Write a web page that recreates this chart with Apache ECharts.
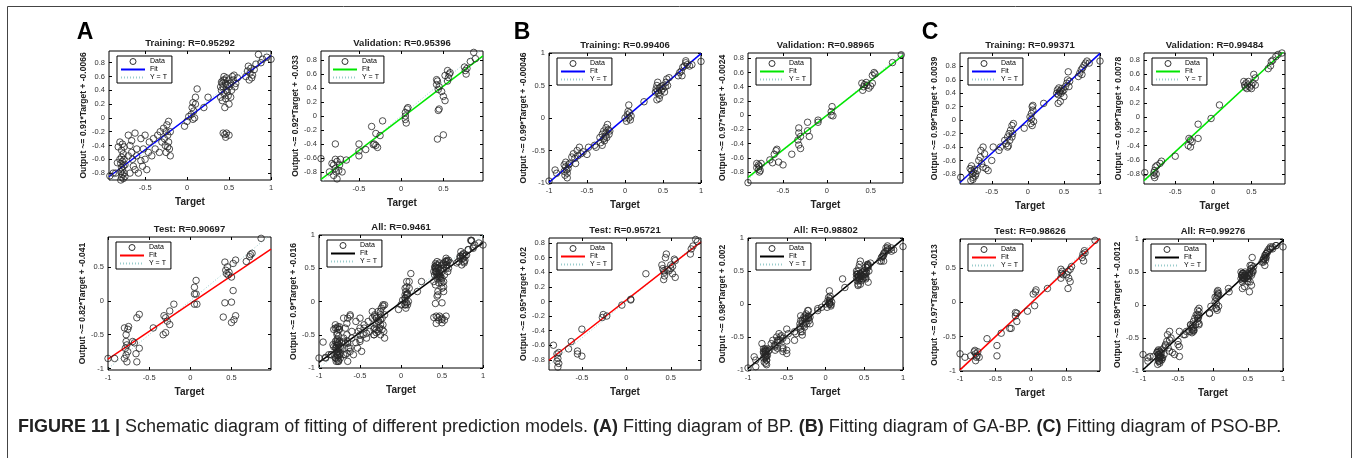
<!DOCTYPE html>
<html><head><meta charset="utf-8">
<script src="https://cdn.jsdelivr.net/npm/echarts@6/dist/echarts.min.js"></script>
<style>html,body{margin:0;padding:0;background:#fff}#c{width:1354px;height:458px}</style>
</head><body><div id="c"></div>
<script>
// ---------- text ----------
const panelTitles = [
  'Training: R=0.95292','Validation: R=0.95396','Test: R=0.90697','All: R=0.9461',
  'Training: R=0.99406','Validation: R=0.98965','Test: R=0.95721','All: R=0.98802',
  'Training: R=0.99371','Validation: R=0.99484','Test: R=0.98626','All: R=0.99276'
];
const yAxisLabels = [
  'Output ~= 0.91*Target + -0.0066','Output ~= 0.92*Target + -0.033','Output ~= 0.82*Target + -0.041','Output ~= 0.9*Target + -0.016',
  'Output ~= 0.99*Target + -0.00046','Output ~= 0.97*Target + -0.0024','Output ~= 0.95*Target + 0.02','Output ~= 0.98*Target + 0.002',
  'Output ~= 0.99*Target + 0.0039','Output ~= 0.99*Target + 0.0078','Output ~= 0.97*Target + -0.013','Output ~= 0.98*Target + -0.0012'
];
const groupLetters = ['A','B','C'];
const captionText = '{b|FIGURE 11 |} Schematic diagram of fitting of different prediction models. {b|(A)} Fitting diagram of BP. {b|(B)} Fitting diagram of GA-BP. {b|(C)} Fitting diagram of PSO-BP.';
const legendNames = ['Data','Fit','Y = T'];
const xAxisName = 'Target';

// ---------- fit lines ----------
const fitSlopes = [0.91,0.92,0.82,0.9, 0.99,0.97,0.95,0.98, 0.99,0.99,0.97,0.98];
const fitIntercepts = [-0.0066,-0.033,-0.041,-0.016, -0.00046,-0.0024,0.02,0.002, 0.0039,0.0078,-0.013,-0.0012];

// ---------- axis ranges & ticks ----------
const xMins = [-0.93,-0.95,-1,-1, -1,-0.9,-0.87,-1, -0.94,-0.91,-1,-1];
const xMaxs = [1,0.97,0.98,1, 1,0.87,0.84,1, 1,0.94,0.97,1];
const yMins = [-0.9,-0.93,-1.02,-1, -1,-0.955,-0.94,-1, -0.95,-0.94,-1,-1];
const yMaxs = [0.97,0.93,0.94,1, 1,0.875,0.87,1, 1,0.9,0.92,1];
const ticksTenths = [-0.8,-0.6,-0.4,-0.2,0,0.2,0.4,0.6,0.8];
const ticksHalves = [-1,-0.5,0,0.5,1];
const ticksHalvesLow = [-1,-0.5,0,0.5];
const ticksMid = [-0.5,0,0.5];
const ticksMidHigh = [-0.5,0,0.5,1];
const xTicks = [ticksMidHigh,ticksMid,ticksHalvesLow,ticksHalves, ticksHalves,ticksMid,ticksMid,ticksHalves, ticksMidHigh,ticksMid,ticksHalvesLow,ticksHalves];
const yTicks = [ticksTenths,ticksTenths,ticksHalvesLow,ticksHalves, ticksHalves,ticksTenths,ticksTenths,ticksHalves, ticksTenths,ticksTenths,ticksHalvesLow,ticksHalves];

// ---------- data (Target, Output) ----------
const aTrain = [[-0.92,-0.84],[-0.88,-0.8],[-0.85,-0.8],[-0.83,-0.65],[-0.82,-0.42],[-0.8,-0.35],
[-0.79,-0.9],[-0.78,-0.86],[-0.77,-0.82],[-0.76,-0.88],[-0.79,-0.78],[-0.77,-0.75],[-0.75,-0.8],[-0.78,-0.72],[-0.76,-0.7],[-0.79,-0.66],[-0.77,-0.63],[-0.75,-0.6],[-0.78,-0.57],[-0.76,-0.52],[-0.78,-0.47],[-0.75,-0.42],[-0.77,-0.38],[-0.74,-0.68],[-0.74,-0.85],[-0.8,-0.6],
[-0.7,-0.25],[-0.68,-0.4],[-0.66,-0.5],[-0.65,-0.6],[-0.64,-0.7],[-0.62,-0.75],[-0.6,-0.55],[-0.62,-0.22],[-0.68,-0.8],[-0.6,-0.45],[-0.7,-0.55],[-0.66,-0.33],
[-0.55,-0.3],[-0.52,-0.45],[-0.5,-0.6],[-0.48,-0.75],[-0.46,-0.5],[-0.5,-0.25],[-0.45,-0.35],[-0.55,-0.62],[-0.58,-0.8],[-0.53,-0.7],
[-0.4,-0.3],[-0.38,-0.45],[-0.35,-0.25],[-0.33,-0.5],[-0.3,-0.35],[-0.42,-0.55],[-0.32,-0.2],
[-0.28,-0.15],[-0.27,-0.3],[-0.26,-0.4],[-0.25,-0.5],[-0.24,-0.1],[-0.23,-0.25],[-0.22,-0.05],[-0.22,-0.35],[-0.21,-0.45],[-0.2,-0.2],[-0.2,-0.55],[-0.25,-0.2],[-0.23,-0.42],
[-0.03,-0.12],[0,-0.05],[0.02,0.02],
[0.05,0.05],[0.06,0.15],[0.07,0.22],[0.08,0.1],[0.09,0],[0.1,0.2],[0.12,0.42],[0.1,0.3],[0.07,-0.02],
[0.25,0.3],[0.2,0.15],
[0.4,0.3],[0.41,0.4],[0.42,0.5],[0.43,0.45],[0.44,0.35],[0.45,0.55],[0.46,0.28],[0.47,0.4],[0.48,0.48],[0.49,0.32],[0.5,0.45],[0.42,0.25],[0.44,0.6],[0.46,0.5],[0.48,0.38],[0.4,0.45],[0.43,0.55],[0.5,0.55],[0.5,0.2],[0.52,0.3],[0.45,0.15],[0.41,0.52],[0.47,0.58],
[0.43,-0.22],[0.45,-0.24],[0.47,-0.22],[0.5,-0.25],[0.46,-0.28],
[0.52,0.5],[0.54,0.6],[0.55,0.55],[0.56,0.62],[0.58,0.5],[0.6,0.58],[0.53,0.4],[0.57,0.45],
[0.7,0.6],[0.72,0.68],[0.74,0.55],[0.75,0.65],[0.76,0.72],[0.78,0.62],[0.8,0.7],[0.73,0.75],[0.77,0.58],
[0.85,0.92],[0.82,0.78],[0.9,0.85],[0.95,0.88],[1,0.85],[0.88,0.8]];
const aVal = [[-0.95,-0.61],[-0.78,-0.62],[-0.76,-0.65],[-0.8,-0.7],[-0.78,-0.75],[-0.77,-0.8],[-0.8,-0.85],[-0.76,-0.9],[-0.73,-0.7],[-0.72,-0.62],[-0.74,-0.78],[-0.85,-0.8],[-0.82,-0.68],
[-0.78,-0.4],[-0.65,-0.63],[-0.7,-0.8],[-0.5,-0.4],[-0.5,-0.5],[-0.5,-0.57],[-0.42,-0.48],
[-0.35,-0.15],[-0.32,-0.4],[-0.3,-0.42],[-0.33,-0.41],[-0.28,-0.45],[-0.3,-0.25],[-0.25,-0.28],[-0.22,-0.07],
[0.05,0.05],[0.05,-0.05],[0.06,-0.1],[0.07,0.1],[0.08,0.12],[0.05,0],
[0.42,0.52],[0.43,0.5],[0.42,0.45],[0.44,0.38],[0.45,0.42],[0.48,0.35],[0.5,0.28],[0.52,0.22],[0.45,0.1],[0.44,0.08],[0.43,-0.33],[0.5,-0.27],
[0.55,0.5],[0.56,0.55],[0.57,0.6],[0.58,0.62],[0.52,0.58],[0.55,0.65],
[0.75,0.7],[0.76,0.65],[0.77,0.6],[0.78,0.68],[0.82,0.78],[0.86,0.91],[0.88,0.82]];
const aTest = [[-1,-0.85],[-0.92,-0.85],
[-0.78,-0.6],[-0.77,-0.65],[-0.79,-0.7],[-0.76,-0.75],[-0.78,-0.8],[-0.8,-0.85],[-0.77,-0.9],[-0.8,-0.4],[-0.76,-0.42],[-0.78,-0.5],[-0.75,-0.38],
[-0.7,-0.6],[-0.68,-0.62],[-0.66,-0.78],[-0.65,-0.9],[-0.62,-0.7],[-0.65,-0.25],[-0.62,-0.2],
[-0.45,-0.4],
[-0.32,-0.22],[-0.3,-0.25],[-0.33,-0.5],[-0.3,-0.47],[-0.28,-0.3],[-0.25,-0.35],[-0.25,-0.15],[-0.2,-0.05],
[0.05,0.2],[0.07,0.3],[0.05,0.1],[0.07,0.1],[0.05,-0.05],[0.08,-0.05],
[0.42,0.57],[0.43,0.45],[0.44,0.4],[0.45,0.5],[0.46,0.38],[0.47,0.42],[0.5,0.35],[0.42,-0.03],[0.4,-0.24],[0.5,-0.02],[0.52,0.15],[0.5,-0.32],[0.55,-0.22],[0.53,-0.28],[0.52,0.55],[0.55,0.6],
[0.68,0.58],[0.72,0.65],[0.75,0.7],[0.73,0.68],[0.86,0.92]];

const bTrain = [[-1,-0.97],[-0.92,-0.8],[-0.9,-0.85],
[-0.8,-0.72],[-0.78,-0.75],[-0.77,-0.8],[-0.76,-0.85],[-0.75,-0.78],[-0.79,-0.88],[-0.74,-0.72],[-0.76,-0.92],[-0.8,-0.82],[-0.73,-0.7],[-0.78,-0.68],
[-0.7,-0.6],[-0.68,-0.55],[-0.66,-0.62],[-0.65,-0.7],[-0.63,-0.5],[-0.6,-0.45],[-0.62,-0.58],[-0.58,-0.55],[-0.55,-0.52],[-0.5,-0.56],[-0.48,-0.45],[-0.4,-0.42],[-0.38,-0.45],
[-0.33,-0.3],[-0.32,-0.38],[-0.3,-0.25],[-0.3,-0.42],[-0.28,-0.2],[-0.28,-0.32],[-0.27,-0.35],[-0.26,-0.28],[-0.25,-0.15],[-0.25,-0.22],[-0.24,-0.3],[-0.23,-0.1],[-0.22,-0.18],[-0.21,-0.25],[-0.2,-0.2],
[0,0],[0.02,-0.05],[0.03,0.05],[0.04,0.1],[0.05,0],[0.06,0.08],[0.07,-0.03],[0.05,0.2],[0.08,0.03],
[0.25,0.25],
[0.4,0.4],[0.41,0.45],[0.42,0.5],[0.43,0.42],[0.44,0.38],[0.45,0.46],[0.46,0.35],[0.47,0.48],[0.48,0.42],[0.5,0.45],[0.43,0.55],[0.45,0.3],[0.42,0.28],[0.52,0.4],[0.54,0.55],[0.55,0.6],[0.56,0.5],[0.58,0.62],[0.5,0.5],[0.53,0.48],
[0.7,0.65],[0.72,0.7],[0.74,0.72],[0.75,0.65],[0.76,0.78],[0.78,0.8],[0.8,0.85],[0.82,0.82],[0.85,0.8],[0.88,0.82],[0.8,0.88],[1,0.87]];
const bVal = [[-0.9,-0.95],
[-0.8,-0.68],[-0.78,-0.7],[-0.77,-0.72],[-0.78,-0.76],[-0.77,-0.8],[-0.76,-0.78],[-0.8,-0.74],[-0.75,-0.68],
[-0.65,-0.63],[-0.62,-0.67],[-0.6,-0.55],[-0.58,-0.5],[-0.55,-0.66],[-0.5,-0.7],[-0.57,-0.48],
[-0.4,-0.55],[-0.32,-0.18],[-0.32,-0.25],[-0.33,-0.35],[-0.32,-0.42],[-0.3,-0.3],[-0.3,-0.47],[-0.22,-0.1],[-0.2,-0.3],[-0.22,-0.22],
[-0.1,-0.1],[-0.1,-0.07],[0.05,0.05],[0.05,0],[0.06,0.12],[0.07,-0.01],
[0.4,0.45],[0.41,0.35],[0.42,0.4],[0.43,0.43],[0.45,0.46],[0.46,0.42],[0.48,0.38],[0.5,0.41],[0.52,0.45],[0.52,0.56],[0.54,0.6],[0.55,0.58],
[0.75,0.74],[0.85,0.85]];
const bTest = [[-0.82,-0.6],[-0.78,-0.72],[-0.77,-0.78],[-0.78,-0.82],[-0.76,-0.85],[-0.77,-0.9],[-0.76,-0.7],
[-0.62,-0.55],[-0.65,-0.65],[-0.55,-0.68],[-0.55,-0.72],[-0.5,-0.75],[-0.5,-0.38],
[-0.27,-0.22],[-0.26,-0.18],[-0.22,-0.2],
[-0.05,-0.05],[0.05,0.02],[0.05,0.03],
[0.22,0.38],
[0.4,0.5],[0.41,0.45],[0.42,0.42],[0.43,0.4],[0.44,0.6],[0.45,0.65],[0.42,0.3],[0.43,0.35],[0.46,0.44],[0.48,0.42],[0.5,0.45],[0.52,0.48],[0.54,0.58],[0.55,0.56],[0.52,0.38],[0.55,0.33],[0.5,0.5],
[0.72,0.65],[0.73,0.72],[0.75,0.76],[0.78,0.85],[0.8,0.82]];

const cTrain = [[-0.93,-0.85],[-0.8,-0.72],[-0.78,-0.75],[-0.77,-0.8],[-0.76,-0.85],[-0.75,-0.78],[-0.79,-0.9],[-0.74,-0.73],[-0.76,-0.88],[-0.72,-0.8],[-0.78,-0.68],[-0.7,-0.75],[-0.73,-0.83],
[-0.68,-0.6],[-0.66,-0.55],[-0.65,-0.45],[-0.64,-0.65],[-0.62,-0.4],[-0.6,-0.5],[-0.62,-0.7],[-0.58,-0.72],[-0.55,-0.75],[-0.5,-0.6],[-0.48,-0.4],[-0.4,-0.45],[-0.38,-0.4],
[-0.32,-0.3],[-0.3,-0.35],[-0.28,-0.25],[-0.28,-0.4],[-0.26,-0.2],[-0.25,-0.3],[-0.24,-0.15],[-0.22,-0.25],[-0.22,-0.08],[-0.2,-0.05],[-0.21,-0.2],[-0.27,-0.38],
[-0.05,-0.12],[0.03,0.05],[0.04,-0.05],[0.05,0.1],[0.06,0.2],[0.07,0.15],[0.08,-0.02],[0.05,0.02],[0.07,0.22],[0.06,-0.08],
[0.22,0.25],
[0.4,0.4],[0.41,0.45],[0.42,0.38],[0.43,0.48],[0.44,0.42],[0.45,0.44],[0.46,0.4],[0.47,0.47],[0.48,0.43],[0.5,0.45],[0.42,0.25],[0.45,0.28],[0.52,0.5],[0.54,0.55],[0.55,0.6],[0.56,0.72],[0.57,0.5],[0.5,0.35],[0.58,0.58],
[0.7,0.65],[0.72,0.7],[0.74,0.75],[0.75,0.68],[0.76,0.78],[0.78,0.82],[0.8,0.85],[0.82,0.88],[0.85,0.85],[1,0.88]];
const cVal = [[-0.9,-0.78],[-0.78,-0.82],[-0.78,-0.78],[-0.77,-0.75],[-0.76,-0.7],[-0.77,-0.85],[-0.75,-0.8],[-0.74,-0.68],[-0.7,-0.65],[-0.68,-0.62],
[-0.5,-0.55],
[-0.32,-0.3],[-0.33,-0.4],[-0.3,-0.42],[-0.28,-0.35],[-0.3,-0.32],[-0.2,-0.1],[-0.2,-0.3],
[-0.03,-0.02],[0.08,0.17],
[0.4,0.5],[0.41,0.45],[0.42,0.42],[0.43,0.48],[0.44,0.4],[0.45,0.45],[0.46,0.5],[0.48,0.42],[0.5,0.45],[0.5,0.4],[0.52,0.48],[0.53,0.6],[0.55,0.55],[0.55,0.45],
[0.72,0.68],[0.75,0.72],[0.76,0.78],[0.78,0.8],[0.82,0.85],[0.85,0.88],[0.9,0.9]];
const cTest = [[-1,-0.75],[-0.93,-0.8],[-0.85,-0.78],[-0.8,-0.72],[-0.78,-0.75],[-0.77,-0.8],[-0.78,-0.85],[-0.76,-0.78],[-0.75,-0.72],[-0.73,-0.8],[-0.79,-0.7],
[-0.62,-0.53],[-0.48,-0.63],[-0.48,-0.78],[-0.42,-0.45],
[-0.3,-0.38],[-0.28,-0.38],[-0.22,-0.2],[-0.22,-0.15],[-0.2,-0.28],[-0.2,-0.16],
[-0.05,-0.13],[0.05,-0.05],[0.03,0.12],[0.06,0.15],[0.07,0.18],[0.23,0.2],
[0.42,0.35],[0.43,0.42],[0.44,0.45],[0.42,0.48],[0.45,0.4],[0.5,0.4],[0.52,0.45],[0.53,0.35],[0.55,0.3],[0.52,0.2],[0.55,0.48],[0.57,0.52],
[0.72,0.65],[0.73,0.7],[0.75,0.75],[0.74,0.6],[0.76,0.72],[0.9,0.9]];

const aAll = aTrain.concat(aVal, aTest);
const bAll = bTrain.concat(bVal, bTest);
const cAll = cTrain.concat(cVal, cTest);
const panelData = [aTrain,aVal,aTest,aAll, bTrain,bVal,bTest,bAll, cTrain,cVal,cTest,cAll];

// ---------- layout (px) ----------
const boxes = [
  [109,51,162,129],[321,51,162,130],[108,237,163,133],[319,235,164,133],
  [549,53,152,130],[748,53,155,130],[549,238,152,132],[748,238,155,132],
  [960,53,140,131],[1144,53,141,131],[960,239,140,132],[1143,239,140,132]
];
const letterPos = [[85,33],[522,33],[930,33]];
const fitColors = ['#0000ff','#00e600','#ff0000','#000000'];

const FONT = '"Liberation Sans", Arial, Helvetica, sans-serif';
const grid = [], xAxis = [], yAxis = [], series = [], legend = [], graphic = [];

boxes.forEach((b, i) => {
  grid.push({left:b[0], top:b[1], width:b[2], height:b[3], show:true, borderColor:'#000', borderWidth:1, backgroundColor:'#fff', containLabel:false});
  const tickCommon = {inside:true, length:3, lineStyle:{color:'#000', width:1}};
  const noLine = {show:false, onZero:false};
  xAxis.push({type:'value', gridIndex:i, min:xMins[i], max:xMaxs[i], position:'bottom',
    name:xAxisName, nameLocation:'middle', nameGap:17,
    nameTextStyle:{fontFamily:FONT, fontSize:10, fontWeight:'bold', color:'#222'},
    axisLine:noLine, splitLine:{show:false},
    axisTick:Object.assign({customValues:xTicks[i]}, tickCommon),
    axisLabel:{customValues:xTicks[i], fontFamily:FONT, fontSize:7.5, color:'#333', margin:4}});
  xAxis.push({type:'value', gridIndex:i, min:xMins[i], max:xMaxs[i], position:'top',
    axisLine:noLine, splitLine:{show:false}, axisLabel:{show:false},
    axisTick:Object.assign({customValues:xTicks[i]}, tickCommon)});
  yAxis.push({type:'value', gridIndex:i, min:yMins[i], max:yMaxs[i], position:'left',
    name:yAxisLabels[i], nameLocation:'middle', nameGap:19, nameRotate:90,
    nameTextStyle:{fontFamily:FONT, fontSize:8.5, fontWeight:'bold', color:'#222'},
    axisLine:noLine, splitLine:{show:false},
    axisTick:Object.assign({customValues:yTicks[i]}, tickCommon),
    axisLabel:{customValues:yTicks[i], fontFamily:FONT, fontSize:7.5, color:'#333', margin:4}});
  yAxis.push({type:'value', gridIndex:i, min:yMins[i], max:yMaxs[i], position:'right',
    axisLine:noLine, splitLine:{show:false}, axisLabel:{show:false},
    axisTick:Object.assign({customValues:yTicks[i]}, tickCommon)});

  const tag = '|' + i;
  const col = fitColors[i % 4];
  const lo = Math.min(xMins[i], yMins[i]), hi = Math.max(xMaxs[i], yMaxs[i]);
  series.push({name:legendNames[2]+tag, type:'line', xAxisIndex:2*i, yAxisIndex:2*i, symbol:'none',
    data:[[lo,lo],[hi,hi]], lineStyle:{color:'#9cc', width:1, type:[1,2]}, itemStyle:{color:'#9cc'}, z:1, silent:true});
  series.push({name:legendNames[1]+tag, type:'line', xAxisIndex:2*i, yAxisIndex:2*i, symbol:'none',
    data:[[xMins[i], fitSlopes[i]*xMins[i]+fitIntercepts[i]],[xMaxs[i], fitSlopes[i]*xMaxs[i]+fitIntercepts[i]]],
    lineStyle:{color:col, width:1.5}, itemStyle:{color:col}, z:2, silent:true});
  series.push({name:legendNames[0]+tag, type:'scatter', xAxisIndex:2*i, yAxisIndex:2*i,
    symbol:'circle', symbolSize:6.5, data:panelData[i],
    itemStyle:{color:'rgba(0,0,0,0)', borderColor:'#262626', borderWidth:1}, z:3, silent:true});

  legend.push({orient:'vertical', left:b[0]+8, top:b[1]+5, itemWidth:24, itemHeight:6, itemGap:1,
    padding:[2,5,2,3], borderColor:'#000', borderWidth:1, backgroundColor:'#fff', selectedMode:false,
    textStyle:{fontFamily:FONT, fontSize:7, color:'#000'},
    data:[{name:legendNames[0]+tag, itemStyle:{color:'rgba(0,0,0,0)', borderColor:'#000', borderWidth:1}},
          {name:legendNames[1]+tag, itemStyle:{opacity:0}},
          {name:legendNames[2]+tag, itemStyle:{opacity:0}}],
    formatter:n => n.split('|')[0]});

  graphic.push({type:'text', x:b[0]+b[2]/2, y:b[1]-8, z:10,
    style:{text:panelTitles[i], align:'center', verticalAlign:'middle', font:'bold 9.5px '+FONT, fill:'#222'}});
});

groupLetters.forEach((t, k) => {
  graphic.push({type:'text', x:letterPos[k][0], y:letterPos[k][1], z:10,
    style:{text:t, align:'center', verticalAlign:'middle', font:'bold 23px '+FONT, fill:'#000'}});
});
graphic.push({type:'text', x:18, y:427, z:10,
  style:{text:captionText, align:'left', verticalAlign:'middle', font:'18px '+FONT, fill:'#222',
    rich:{b:{font:'bold 18px '+FONT, fill:'#222'}}}});
graphic.push({type:'rect', shape:{x:7.5, y:6.5, width:1344, height:500}, z:0,
  style:{fill:'none', stroke:'#444', lineWidth:1}});

const chart = echarts.init(document.getElementById('c'), null, {renderer:'canvas'});
chart.setOption({animation:false, backgroundColor:'#fff', grid, xAxis, yAxis, series, legend, graphic});
</script></body></html>
